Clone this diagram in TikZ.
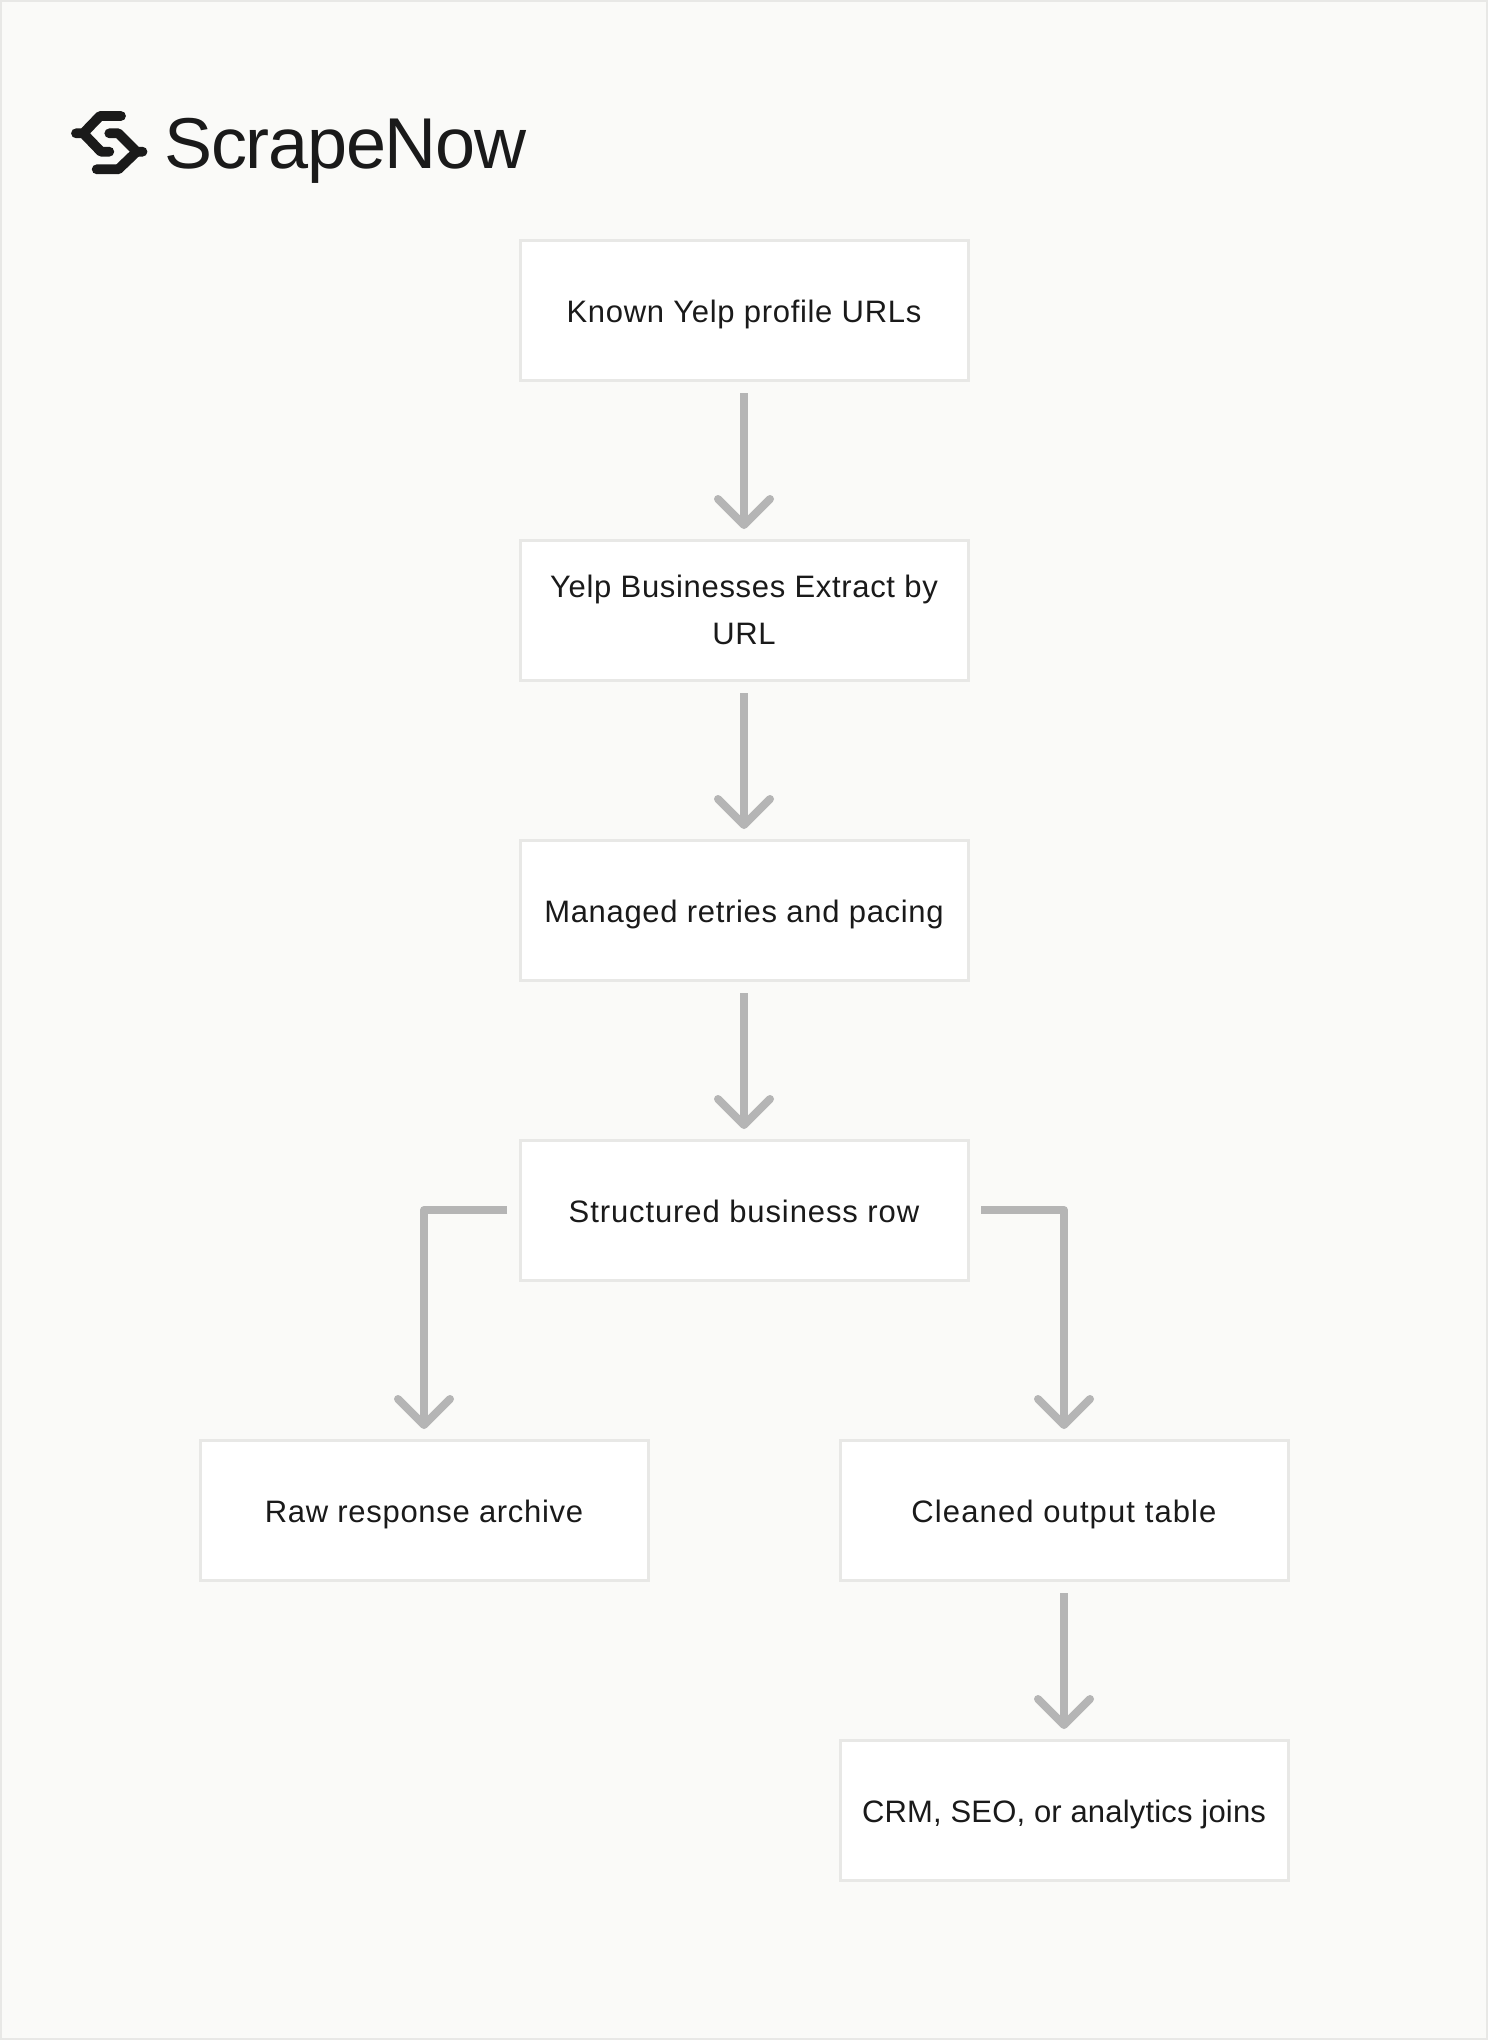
\documentclass[tikz,border=0pt]{standalone}
\usepackage{fontspec}
\usetikzlibrary{arrows.meta}
\setmainfont[LetterSpace=2.2]{Liberation Sans}
\newfontfamily\logofont[LetterSpace=-1.7]{Liberation Sans}
\definecolor{pagebg}{HTML}{FAFAF8}
\definecolor{edge}{HTML}{E8E8E6}
\definecolor{flowgray}{HTML}{B5B5B5}
\definecolor{ink}{HTML}{1A1A1A}
\tikzset{
  stepbox/.style={draw=edge,fill=white,line width=3pt,minimum width=448pt,minimum height=140pt,inner sep=0pt,outer sep=0pt,align=center,text=ink,font=\fontsize{31}{47.5}\selectfont},
  oneline/.style={stepbox,text height=28pt,text depth=4pt},
  flow/.style={draw=flowgray,line width=8pt,line join=round,shorten <=13pt,shorten >=11pt,-{Straight Barb[length=26pt,width=52pt,round]}},
  logostroke/.style={draw=ink,line width=9.8pt,line cap=round,line join=round}
}
\begin{document}
\begin{tikzpicture}[x=1pt,y=-1pt]
\useasboundingbox (0,0) rectangle (1488,2040);
\fill[pagebg] (0,0) rectangle (1488,2040);
\draw[edge,line width=2pt] (1,1) rectangle (1487,2039);
% logo
\draw[logostroke] (121,116) -- (100,116) -- (83.3,133.3) -- (76,133.3);
\draw[logostroke] (83.3,133.3) -- (101,151.7) -- (109.3,151.7);
\draw[logostroke] (109.3,133.3) -- (118.3,133.3) -- (136.7,151.7) -- (142.5,151.7);
\draw[logostroke] (136.7,151.7) -- (118.3,169.3) -- (96.7,169.3);
\node[anchor=base west,inner sep=0pt,text=ink,font=\logofont\fontsize{72}{72}\selectfont] (logo) at (164,168) {ScrapeNow};
% boxes
\node[oneline] (a) at (744,310) {Known Yelp profile URLs};
\node[stepbox] (b) at (744,610) {Yelp Businesses Extract by\\URL};
\node[oneline] (c) at (744,910) {Managed retries and pacing};
\node[oneline] (d) at (744,1210) {\addfontfeature{LetterSpace=2.9}Structured business row};
\node[oneline] (e) at (424,1510) {Raw response archive};
\node[oneline] (f) at (1064,1510) {\addfontfeature{LetterSpace=3.6}Cleaned output table};
\node[oneline] (g) at (1064,1810) {\addfontfeature{LetterSpace=0.6}CRM, SEO, or analytics joins};
% connectors
\draw[flow] (a) -- (b);
\draw[flow] (b) -- (c);
\draw[flow] (c) -- (d);
\draw[flow] (d.west) -| (e.north);
\draw[flow] (d.east) -| (f.north);
\draw[flow] (f) -- (g);
\end{tikzpicture}
\end{document}
